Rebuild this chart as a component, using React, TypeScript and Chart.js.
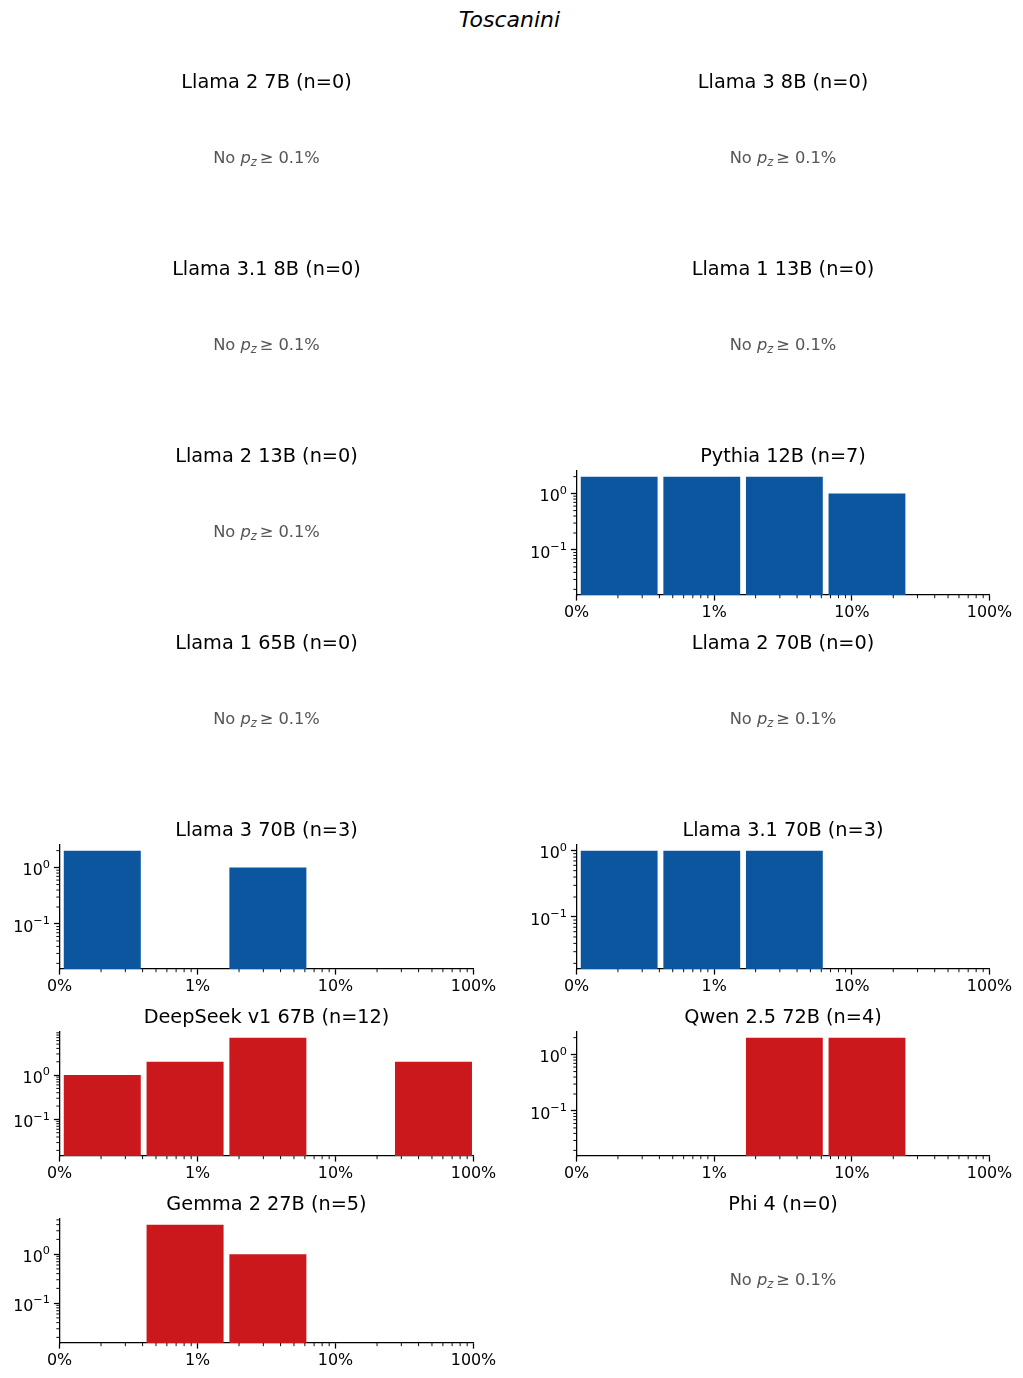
import React, { useEffect, useRef } from 'react';
import { Chart, registerables } from 'chart.js';

Chart.register(...registerables);

// ---------------- data ----------------
const FIGURE_TITLE = 'Toscanini';

const MODEL_NAMES = [
  'Llama 2 7B', 'Llama 3 8B',
  'Llama 3.1 8B', 'Llama 1 13B',
  'Llama 2 13B', 'Pythia 12B',
  'Llama 1 65B', 'Llama 2 70B',
  'Llama 3 70B', 'Llama 3.1 70B',
  'DeepSeek v1 67B', 'Qwen 2.5 72B',
  'Gemma 2 27B', 'Phi 4',
];

// 0 = blue group, 1 = red group
const MODEL_GROUP = [0, 0, 0, 0, 0, 0, 0, 0, 0, 0, 1, 1, 1, 1];

// histogram bins (log10 of fraction), bar centres
const BIN_CENTERS_LOG = [-2.69, -2.09, -1.49, -0.89, -0.29];

// counts per bin
const LLAMA2_7B = [0, 0, 0, 0, 0];
const LLAMA3_8B = [0, 0, 0, 0, 0];
const LLAMA31_8B = [0, 0, 0, 0, 0];
const LLAMA1_13B = [0, 0, 0, 0, 0];
const LLAMA2_13B = [0, 0, 0, 0, 0];
const PYTHIA_12B = [2, 2, 2, 1, 0];
const LLAMA1_65B = [0, 0, 0, 0, 0];
const LLAMA2_70B = [0, 0, 0, 0, 0];
const LLAMA3_70B = [2, 0, 1, 0, 0];
const LLAMA31_70B = [1, 1, 1, 0, 0];
const DEEPSEEK_67B = [1, 2, 7, 0, 2];
const QWEN25_72B = [0, 0, 2, 2, 0];
const GEMMA2_27B = [0, 4, 1, 0, 0];
const PHI_4 = [0, 0, 0, 0, 0];

const MODEL_COUNTS = [
  LLAMA2_7B, LLAMA3_8B, LLAMA31_8B, LLAMA1_13B, LLAMA2_13B, PYTHIA_12B, LLAMA1_65B,
  LLAMA2_70B, LLAMA3_70B, LLAMA31_70B, DEEPSEEK_67B, QWEN25_72B, GEMMA2_27B, PHI_4,
];

const X_TICK_VALUES = [-3, -2, -1, 0];
const X_TICK_LABELS = ['0%', '1%', '10%', '100%'];
const Y_MAJOR_TICKS = [0.01, 0.1, 1, 10];

// ---------------- style / layout ----------------
const FONT = "'DejaVu Sans'";
const GROUP_COLORS = ['#0c56a0', '#cb181d'];
const NOTE_COLOR = '#555555';
const Y_FLOOR = 0.02;
const Y_MARGIN = 0.05;

const CANVAS_W = 511;
const CANVAS_H = 200;
const COL_CANVAS_LEFT = [0, 512];
const COL_PLOT_LEFT = [59.5, 576.5];
const COL_PLOT_W = [414, 413];
const ROW_PLOT_TOP0 = 97;
const ROW_STEP = 187;
const PLOT_H = 124;
const PLOT_TOP_IN_CANVAS = 45;
const X_AXIS_H = 30;

const TICK_MAJOR = 5.6;
const TICK_MINOR = 3.2;
const LW_MAJOR = 1.27;
const LW_MINOR = 0.95;

function drawNote(ctx: CanvasRenderingContext2D, cx: number, cy: number) {
  const fs = 16.3;
  const parts = [
    { t: 'No ', font: `${fs}px ${FONT}`, dy: 0, before: 0 },
    { t: 'p', font: `italic ${fs}px ${FONT}`, dy: 0, before: 0 },
    { t: 'z', font: `italic ${fs * 0.7}px ${FONT}`, dy: 2.6, before: 0 },
    { t: '\u2265', font: `${fs}px ${FONT}`, dy: 0, before: 3 },
    { t: '0.1%', font: `${fs}px ${FONT}`, dy: 0, before: 5 },
  ];
  let total = 0;
  const widths: number[] = [];
  for (const p of parts) {
    ctx.font = p.font;
    const w = ctx.measureText(p.t).width;
    widths.push(w);
    total += p.before + w;
  }
  let x = cx - total / 2;
  ctx.fillStyle = NOTE_COLOR;
  ctx.textAlign = 'left';
  ctx.textBaseline = 'alphabetic';
  parts.forEach((p, i) => {
    x += p.before;
    ctx.font = p.font;
    ctx.fillText(p.t, x, cy + 4 + p.dy);
    x += widths[i];
  });
}

function makeDecorPlugin(title: string, empty: boolean) {
  return {
    id: 'decor',
    afterDraw(chart: any) {
      const ctx: CanvasRenderingContext2D = chart.ctx;
      const ca = chart.chartArea;
      ctx.save();
      ctx.fillStyle = '#000';
      ctx.font = `19.3px ${FONT}`;
      ctx.textAlign = 'center';
      ctx.textBaseline = 'alphabetic';
      ctx.fillText(title, (ca.left + ca.right) / 2, ca.top - 9.5);
      if (empty) {
        drawNote(ctx, (ca.left + ca.right) / 2, (ca.top + ca.bottom) / 2);
        ctx.restore();
        return;
      }
      const xs = chart.scales.x;
      const ys = chart.scales.y;
      ctx.strokeStyle = '#000';
      ctx.lineWidth = LW_MINOR;
      // x minor ticks
      for (let e = -3; e < 0; e++) {
        for (let k = 2; k <= 9; k++) {
          const px = xs.getPixelForValue(e + Math.log10(k));
          ctx.beginPath();
          ctx.moveTo(px, ca.bottom);
          ctx.lineTo(px, ca.bottom + TICK_MINOR);
          ctx.stroke();
        }
      }
      // y minor ticks
      const ymin = ys.min;
      const ymax = ys.max;
      for (let e = Math.floor(Math.log10(ymin)); e <= Math.ceil(Math.log10(ymax)); e++) {
        for (let k = 2; k <= 9; k++) {
          const v = k * Math.pow(10, e);
          if (v < ymin || v > ymax) continue;
          const py = ys.getPixelForValue(v);
          ctx.beginPath();
          ctx.moveTo(ca.left, py);
          ctx.lineTo(ca.left - TICK_MINOR, py);
          ctx.stroke();
        }
      }
      // y labels with superscripts
      ctx.fillStyle = '#000';
      ctx.textAlign = 'left';
      for (const v of Y_MAJOR_TICKS) {
        if (v < ymin || v > ymax) continue;
        const py = ys.getPixelForValue(v);
        const ex = Math.round(Math.log10(v));
        const expStr = ex < 0 ? '\u2212' + String(-ex) : String(ex);
        ctx.font = `11.3px ${FONT}`;
        const wExp = ctx.measureText(expStr).width;
        ctx.font = `15.9px ${FONT}`;
        const wBase = ctx.measureText('10').width;
        const xr = ca.left - 9.5;
        ctx.fillText('10', xr - wExp - wBase, py + 7.7);
        ctx.font = `11.3px ${FONT}`;
        ctx.fillText(expStr, xr - wExp, py + 0.3);
      }
      ctx.restore();
    },
  };
}

function Subplot({ idx }: { idx: number }) {
  const ref = useRef<HTMLCanvasElement>(null);
  const row = Math.floor(idx / 2);
  const col = idx % 2;
  const canvasLeft = COL_CANVAS_LEFT[col];
  const canvasTop = ROW_PLOT_TOP0 + ROW_STEP * row - PLOT_TOP_IN_CANVAS;

  useEffect(() => {
    const counts = MODEL_COUNTS[idx];
    const n = counts.reduce((a, b) => a + b, 0);
    const title = `${MODEL_NAMES[idx]} (n=${n})`;
    const empty = n === 0;
    const yAxisW = COL_PLOT_LEFT[col] - canvasLeft;
    const rightPad = CANVAS_W - yAxisW - COL_PLOT_W[col];
    const color = GROUP_COLORS[MODEL_GROUP[idx]];

    let config: any;
    if (empty) {
      config = {
        type: 'bar',
        data: { datasets: [] },
        options: {
          responsive: false,
          animation: false,
          events: [],
          layout: {
            padding: {
              left: yAxisW,
              right: rightPad,
              top: PLOT_TOP_IN_CANVAS,
              bottom: CANVAS_H - PLOT_TOP_IN_CANVAS - PLOT_H,
            },
          },
          scales: { x: { display: false }, y: { display: false } },
          plugins: { legend: { display: false }, tooltip: { enabled: false } },
        },
        plugins: [makeDecorPlugin(title, true)],
      };
    } else {
      const maxC = Math.max(...counts);
      const lo = Math.log10(Y_FLOOR);
      const hi = Math.log10(maxC);
      const r = hi - lo;
      const yMin = Math.pow(10, lo - Y_MARGIN * r);
      const yMax = Math.pow(10, hi + Y_MARGIN * r);
      config = {
        type: 'bar',
        data: {
          datasets: [
            {
              data: BIN_CENTERS_LOG.map((x, i) => ({ x, y: counts[i] > 0 ? counts[i] : null })),
              backgroundColor: color,
              borderWidth: 0,
              barPercentage: 0.93,
              categoryPercentage: 1.0,
            },
          ],
        },
        options: {
          responsive: false,
          animation: false,
          events: [],
          layout: {
            padding: {
              left: 0,
              right: rightPad,
              top: PLOT_TOP_IN_CANVAS,
              bottom: CANVAS_H - PLOT_TOP_IN_CANVAS - PLOT_H - X_AXIS_H,
            },
          },
          scales: {
            x: {
              type: 'linear',
              min: -3,
              max: 0,
              offset: false,
              position: 'bottom',
              afterFit: (s: any) => {
                s.height = X_AXIS_H;
              },
              afterBuildTicks: (s: any) => {
                s.ticks = X_TICK_VALUES.map((v) => ({ value: v }));
              },
              ticks: {
                autoSkip: false,
                maxRotation: 0,
                padding: 3,
                color: '#000',
                font: { family: FONT, size: 15.9 },
                callback: (v: any) => {
                  const i = X_TICK_VALUES.indexOf(Math.round(Number(v)));
                  return i >= 0 ? X_TICK_LABELS[i] : '';
                },
              },
              grid: {
                display: true,
                offset: false,
                drawOnChartArea: false,
                drawTicks: true,
                tickLength: TICK_MAJOR,
                tickWidth: LW_MAJOR,
                tickColor: '#000',
              },
              border: { display: true, color: '#000', width: LW_MAJOR },
            },
            y: {
              type: 'logarithmic',
              min: yMin,
              max: yMax,
              beginAtZero: false,
              position: 'left',
              afterFit: (s: any) => {
                s.width = yAxisW;
              },
              afterBuildTicks: (s: any) => {
                s.ticks = Y_MAJOR_TICKS.filter((v) => v >= yMin && v <= yMax).map((v) => ({ value: v }));
              },
              ticks: { display: false },
              grid: {
                display: true,
                drawOnChartArea: false,
                drawTicks: true,
                tickLength: TICK_MAJOR,
                tickWidth: LW_MAJOR,
                tickColor: '#000',
              },
              border: { display: true, color: '#000', width: LW_MAJOR },
            },
          },
          plugins: { legend: { display: false }, tooltip: { enabled: false } },
        },
        plugins: [makeDecorPlugin(title, false)],
      };
    }
    const chart = new Chart(ref.current as HTMLCanvasElement, config);
    return () => chart.destroy();
  }, [idx]);

  return (
    <canvas
      ref={ref}
      width={CANVAS_W}
      height={CANVAS_H}
      style={{
        position: 'absolute',
        left: canvasLeft,
        top: canvasTop,
        width: CANVAS_W,
        height: CANVAS_H,
      }}
    />
  );
}

export default function App() {
  return (
    <div
      style={{
        position: 'absolute',
        left: 0,
        top: 0,
        width: 1023,
        height: 1378,
        background: '#fff',
        overflow: 'hidden',
      }}
    >
      <div
        style={{
          position: 'absolute',
          left: 0,
          top: 9,
          width: 1019,
          textAlign: 'center',
          fontFamily: FONT,
          fontStyle: 'italic',
          fontSize: 22,
          lineHeight: '22px',
          color: '#000',
        }}
      >
        {FIGURE_TITLE}
      </div>
      {MODEL_NAMES.map((_, i) => (
        <Subplot key={i} idx={i} />
      ))}
    </div>
  );
}
